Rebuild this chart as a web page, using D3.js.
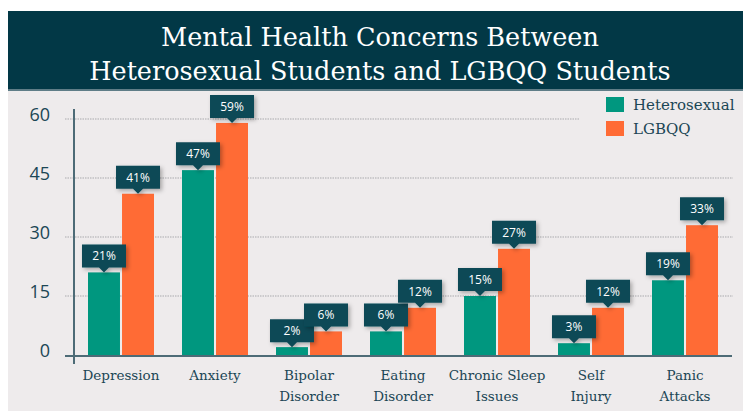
<!DOCTYPE html>
<html>
<head>
<meta charset="utf-8">
<script src="https://cdn.jsdelivr.net/npm/d3@7"></script>
<style>
  body { margin: 0; background: #fff; }
  svg { display: block; }
</style>
</head>
<body>
<div id="chart"></div>
<script>
// data
const titleLines = ["Mental Health Concerns Between", "Heterosexual Students and LGBQQ Students"];
const categories = [
    ["Depression"],
    ["Anxiety"],
    ["Bipolar", "Disorder"],
    ["Eating", "Disorder"],
    ["Chronic Sleep", "Issues"],
    ["Self", "Injury"],
    ["Panic", "Attacks"]
];
const seriesNames = ["Heterosexual", "LGBQQ"];
const heterosexual = [21, 47, 2, 6, 15, 3, 19];
const lgbqq = [41, 59, 6, 12, 27, 12, 33];
const yTicks = [0, 15, 30, 45, 60];

const colors = ["#00977f", "#ff6b35"];
const ink = "#1b4655";
const slab = "'DejaVu Serif', serif";

let width = 743;
let height = 411;

let svg = d3.select("#chart")
    .append("svg")
    .attr("width", width)
    .attr("height", height);

let defs = svg.append("defs");
let shadow = defs.append("filter").attr("id", "shadow")
    .attr("x", "-30%").attr("y", "-30%").attr("width", "170%").attr("height", "170%");
shadow.append("feDropShadow")
    .attr("dx", 2).attr("dy", 2).attr("stdDeviation", 2)
    .attr("flood-color", "#000").attr("flood-opacity", 0.3);

// panel + header
svg.append("rect").attr("x", 8).attr("y", 90).attr("width", width - 8).attr("height", height - 90)
    .attr("fill", "#eeebec");
svg.append("rect").attr("x", 8).attr("y", 11).attr("width", width - 8).attr("height", 79)
    .attr("fill", "#023846");
svg.append("rect").attr("x", 8).attr("y", 89).attr("width", width - 8).attr("height", 2)
    .attr("fill", "#5f7d87");

svg.selectAll(".title")
    .data(titleLines)
    .join("text")
    .attr("class", "title")
    .attr("x", 380)
    .attr("y", (d, i) => 46 + i * 34)
    .attr("text-anchor", "middle")
    .attr("fill", "#fff")
    .style("font-family", slab)
    .style("font-size", "25.5px")
    .text(d => d);

// scales
let x0 = d3.scaleBand()
    .domain(d3.range(categories.length))
    .range([74, 732]);

let x1 = d3.scaleBand()
    .domain([0, 1])
    .range([x0.bandwidth() / 2 - 33, x0.bandwidth() / 2 + 33])
    .paddingInner(0.06);

let y = d3.scaleLinear()
    .domain([0, 60])
    .range([355, 119]);

// gridlines
svg.append("g")
    .selectAll("line")
    .data(yTicks.filter(t => t > 0))
    .join("line")
    .attr("x1", 65).attr("x2", 733)
    .attr("y1", d => y(d)).attr("y2", d => y(d))
    .attr("stroke", "#a9a9ad")
    .attr("stroke-width", 1)
    .attr("stroke-dasharray", "1.5,1");

// y axis labels
let yAxis = d3.axisLeft(y).tickValues(yTicks).tickSize(0).tickPadding(0);
let yg = svg.append("g").attr("transform", "translate(50,-4)").call(yAxis);
yg.select(".domain").remove();
yg.selectAll("text")
    .attr("fill", ink)
    .style("font-family", "'Open Sans', sans-serif")
    .style("font-size", "18px");

// bars
let rows = categories.map((c, i) => [heterosexual[i], lgbqq[i]]);

let groups = svg.append("g")
    .selectAll("g")
    .data(rows)
    .join("g")
    .attr("transform", (d, i) => `translate(${x0(i)},0)`);

groups.selectAll("rect")
    .data(d => d)
    .join("rect")
    .attr("x", (d, j) => x1(j))
    .attr("width", x1.bandwidth())
    .attr("y", d => y(d))
    .attr("height", d => y(0) - y(d))
    .attr("fill", (d, j) => colors[j]);

// axis lines
svg.append("line").attr("x1", 65).attr("x2", 732).attr("y1", y(0) + 1).attr("y2", y(0) + 1)
    .attr("stroke", "#4d6b76").attr("stroke-width", 2);
svg.append("line").attr("x1", 74).attr("x2", 74).attr("y1", 109).attr("y2", 364)
    .attr("stroke", "#4d6b76").attr("stroke-width", 2);

// value callouts
let tags = groups.selectAll(".tag")
    .data(d => d)
    .join("g")
    .attr("class", "tag")
    .attr("transform", (d, j) => `translate(${x1(j) + x1.bandwidth() / 2},${y(d)})`);

tags.append("path")
    .attr("d", "M-22,-28 H22 V-5 H5 L0,0 L-5,-5 H-22 Z")
    .attr("fill", "#0b4a57")
    .attr("filter", "url(#shadow)");

tags.append("text")
    .attr("y", -12)
    .attr("text-anchor", "middle")
    .attr("fill", "#fff")
    .style("font-family", "'Open Sans', sans-serif")
    .style("font-size", "12px")
    .style("font-weight", 400)
    .text(d => d + "%");

// category labels
let cat = svg.append("g")
    .selectAll("text")
    .data(categories)
    .join("text")
    .attr("x", (d, i) => x0(i) + x0.bandwidth() / 2)
    .attr("y", 380)
    .attr("text-anchor", "middle")
    .attr("fill", ink)
    .style("font-family", slab)
    .style("font-size", "13.5px");

cat.selectAll("tspan")
    .data(d => d)
    .join("tspan")
    .attr("x", function () { return this.parentNode.getAttribute("x"); })
    .attr("dy", (d, i) => i === 0 ? 0 : 21)
    .text(d => d);

// legend
let legend = svg.append("g").attr("transform", "translate(580,93)");
legend.append("rect").attr("width", 160).attr("height", 48).attr("fill", "#eeebec");

let items = legend.selectAll(".item")
    .data(seriesNames)
    .join("g")
    .attr("class", "item")
    .attr("transform", (d, i) => `translate(26,${4 + i * 24})`);

items.append("rect")
    .attr("width", 18).attr("height", 15)
    .attr("fill", (d, i) => colors[i]);

items.append("text")
    .attr("x", 27).attr("y", 13)
    .attr("fill", ink)
    .style("font-family", slab)
    .style("font-size", "15px")
    .text(d => d);
</script>
</body>
</html>
